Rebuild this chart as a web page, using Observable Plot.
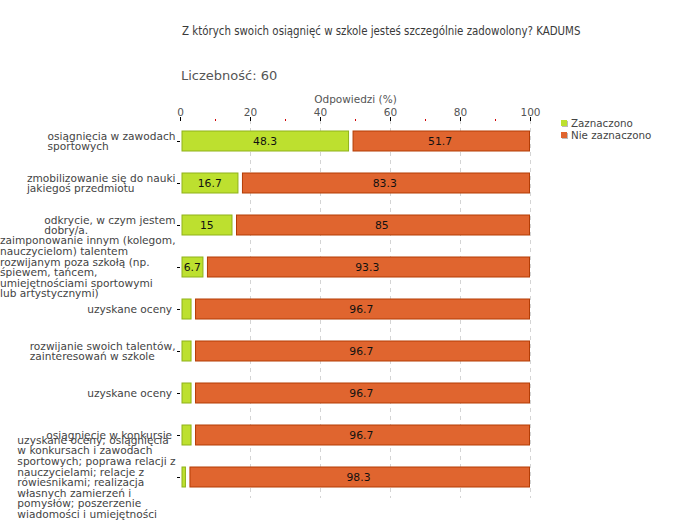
<!DOCTYPE html>
<html>
<head>
<meta charset="utf-8">
<script src="https://cdn.jsdelivr.net/npm/d3@7"></script>
<script src="https://cdn.jsdelivr.net/npm/@observablehq/plot@0.6"></script>
<style>
  html, body { margin: 0; padding: 0; background: white; }
  #wrap { position: relative; width: 680px; height: 520px; overflow: hidden; }
  #chart { position: absolute; left: 0; top: 0; }
  .title { position: absolute; left: 182px; top: 24px; line-height: 12px; font: 11.4px "DejaVu Sans Condensed", "DejaVu Sans", sans-serif; color: #3a3a3a; white-space: nowrap; }
  .count { position: absolute; left: 181px; top: 68px; line-height: 16px; font: 13px "DejaVu Sans", sans-serif; color: #555; white-space: nowrap; }
  .legend { position: absolute; left: 561px; top: 117px; font: 10.3px "DejaVu Sans", sans-serif; color: #444; }
  .legend div { height: 12px; line-height: 12px; white-space: nowrap; }
  .legend span.sw { display: inline-block; width: 6px; height: 6px; margin-right: 4px; vertical-align: 1px; box-shadow: 1px 1px 0 #bbb; }
</style>
</head>
<body>
<div id="wrap">
  <div id="chart"></div>
  <div class="title" id="title"></div>
  <div class="count" id="count"></div>
  <div class="legend" id="legend"></div>
</div>
<script>
const titleText = "Z których swoich osiągnięć w szkole jesteś szczególnie zadowolony? KADUMS";
const countText = "Liczebność: 60";
const axisLabel = "Odpowiedzi (%)";
const seriesNames = ["Zaznaczono", "Nie zaznaczono"];
const seriesFill = ["#bde02f", "#e0652f"];
const seriesStroke = ["#8fb21a", "#b33c05"];

const categories = [
  "osiągnięcia w zawodach\nsportowych",
  "zmobilizowanie się do nauki\njakiegoś przedmiotu",
  "odkrycie, w czym jestem\ndobry/a.",
  "zaimponowanie innym (kolegom,\nnauczycielom) talentem\nrozwijanym poza szkołą (np.\nśpiewem, tańcem,\numiejętnościami sportowymi\nlub artystycznymi)",
  "uzyskane oceny ",
  "rozwijanie swoich talentów,\nzainteresowań w szkole",
  "uzyskane oceny ",
  "osiągnięcie w konkursie ",
  "uzyskane oceny; osiągnięcia\nw konkursach i zawodach\nsportowych; poprawa relacji z\nnauczycielami; relacje z\nrówieśnikami; realizacja\nwłasnych zamierzeń i\npomysłów; poszerzenie\nwiadomości i umiejętności"
];
const zaznaczono = [48.3, 16.7, 15, 6.7, 3.3, 3.3, 3.3, 3.3, 1.7];
const nieZaznaczono = [51.7, 83.3, 85, 93.3, 96.7, 96.7, 96.7, 96.7, 98.3];
const xTicks = [0, 20, 40, 60, 80, 100];
const xMinorTicks = [10, 30, 50, 70, 90];

document.getElementById("title").textContent = titleText;
document.getElementById("count").textContent = countText;
document.getElementById("legend").innerHTML = seriesNames.map((n, i) =>
  `<div><span class="sw" style="background:${seriesFill[i]}"></span>${n}</div>`).join("");

const rows = categories.map((c, i) => ({i, label: c, yes: zaznaczono[i], no: nieZaznaczono[i]}));

const labelSize = 10.6;
const ctx = document.createElement("canvas").getContext("2d");
ctx.font = `${labelSize}px 'DejaVu Sans'`;
const blockWidth = s => Math.max(...s.split("\n").map(l => ctx.measureText(l).width));

const labelMarks = rows.map(r => Plot.text([r], {
  y: "i", text: "label", frameAnchor: "left", textAnchor: "start", lineAnchor: "middle",
  lineHeight: 1.0, dx: -(5 + blockWidth(r.label)), fontSize: labelSize, fill: "#444"
}));

const chart = Plot.plot({
  width: 680, height: 520,
  marginTop: 120, marginLeft: 180, marginRight: 150, marginBottom: 22,
  style: {fontFamily: "DejaVu Sans", fontSize: "10px", background: "transparent", overflow: "visible"},
  x: {domain: [0, 100]},
  y: {domain: d3.range(categories.length), padding: 0, axis: null},
  marks: [
    Plot.gridX(xTicks.slice(1), {stroke: "#d4d4d4", strokeOpacity: 1, strokeDasharray: "4,4"}),
    Plot.barX(rows, {y: "i", x1: 0, x2: "yes", insetLeft: 2, insetRight: 0.5, insetTop: 11, insetBottom: 11,
      fill: seriesFill[0], stroke: seriesStroke[0], strokeWidth: 1}),
    Plot.barX(rows, {y: "i", x1: "yes", x2: d => d.yes + d.no, insetLeft: 4, insetRight: 0.5, insetTop: 11, insetBottom: 11,
      fill: seriesFill[1], stroke: seriesStroke[1], strokeWidth: 1}),
    Plot.text(rows.filter(d => d.yes >= 5), {y: "i", x: d => d.yes / 2, text: d => String(d.yes), fontSize: 10.8, fill: "#111"}),
    Plot.text(rows.filter(d => d.no >= 5), {y: "i", x: d => d.yes + d.no / 2, text: d => String(d.no), fontSize: 10.8, fill: "#111"}),
    Plot.axisX({anchor: "top", ticks: xMinorTicks, tickSize: 2, tickFormat: () => "", stroke: "#d00000", label: null}),
    Plot.axisX({anchor: "top", ticks: xTicks, tickSize: 4, tickPadding: 1, stroke: "black", fill: "#555", fontSize: 10.5,
      line: true, label: axisLabel, labelAnchor: "center", labelArrow: "none", labelOffset: 25}),
    Plot.axisY({ticks: d3.range(categories.length), tickSize: 3, tickFormat: () => "", line: true, stroke: "black", label: null}),
    ...labelMarks
  ]
});
document.getElementById("chart").appendChild(chart);
</script>
</body>
</html>
